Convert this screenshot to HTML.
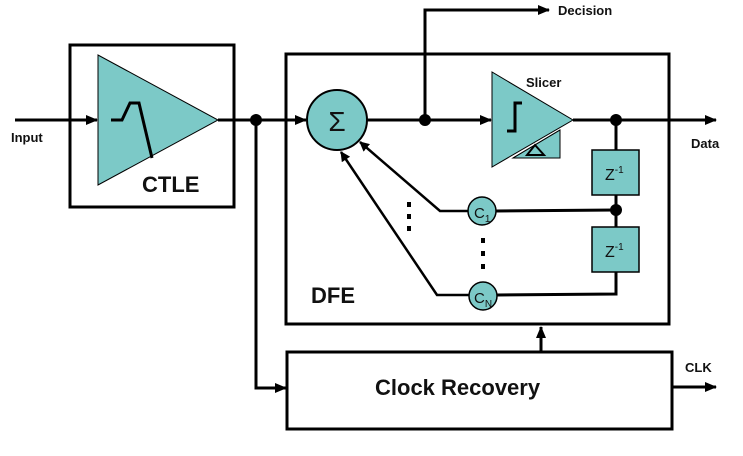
<!DOCTYPE html>
<html><head><style>html,body{margin:0;padding:0;background:#fff}svg{display:block}</style></head><body>
<svg width="743" height="456" viewBox="0 0 743 456" xmlns="http://www.w3.org/2000/svg" font-family="Liberation Sans, Arial, sans-serif" font-weight="bold">
<defs><marker id="a" markerWidth="10" markerHeight="10" refX="9" refY="5" orient="auto" markerUnits="userSpaceOnUse"><path d="M0,0 L10,5 L0,10 z" fill="#000"/></marker>
<marker id="b" markerWidth="12" markerHeight="12" refX="11" refY="6" orient="auto" markerUnits="userSpaceOnUse"><path d="M0,1 L12,6 L0,11 z" fill="#000"/></marker></defs>
<g fill="none" stroke="#000" stroke-width="3">
<rect x="70" y="45" width="164" height="162"/>
<rect x="286" y="54" width="383" height="270"/>
<rect x="287" y="352" width="385" height="77"/>
</g>
<polygon points="98,55 98,185 218,120" fill="#7cc9c7" stroke="#000" stroke-width="1"/>
<polyline points="111,120 122,120 130,103 139,103 152,158" fill="none" stroke="#000" stroke-width="3"/>
<text x="142" y="192" font-size="22" fill="#111">CTLE</text>
<g stroke="#000" stroke-width="3" fill="none">
<line x1="15" y1="120" x2="97" y2="120" marker-end="url(#b)"/>
<line x1="218" y1="120" x2="306" y2="120" marker-end="url(#b)"/>
<polyline points="256,120 256,388 286,388" marker-end="url(#b)"/>
<line x1="367" y1="120" x2="491" y2="120" marker-end="url(#b)"/>
<polyline points="425,120 425,10 549,10" marker-end="url(#b)"/>
<line x1="573" y1="120" x2="716" y2="120" marker-end="url(#b)"/>
<line x1="616" y1="120" x2="616" y2="150"/>
<line x1="616" y1="195" x2="616" y2="227"/>
<polyline points="616,272 616,294 497,295"/>
<polyline points="616,210 496,211"/>
<line x1="541" y1="352" x2="541" y2="327" marker-end="url(#b)"/>
<line x1="672" y1="387" x2="716" y2="387" marker-end="url(#b)"/>
</g>
<g stroke="#000" stroke-width="2.5" fill="none">
<polyline points="468,211 440,211 360,142" marker-end="url(#a)"/>
<polyline points="469,295 437,295 341,152" marker-end="url(#a)"/>
</g>
<circle cx="337" cy="120" r="30" fill="#7cc9c7" stroke="#000" stroke-width="2"/>
<text x="337" y="131" font-size="28" font-weight="normal" text-anchor="middle" fill="#111">Σ</text>
<polygon points="492,72 492,167 573,120" fill="#7cc9c7" stroke="#000" stroke-width="1"/>
<polygon points="513,158 560,158 560,130 513,158" fill="#7cc9c7" stroke="#000" stroke-width="1"/>
<line x1="513" y1="158" x2="560" y2="130" stroke="#000" stroke-width="1"/>
<polygon points="527,155 544,155 535,145" fill="none" stroke="#000" stroke-width="2"/>
<polyline points="507,131 515,131 515,103 522,103" fill="none" stroke="#000" stroke-width="3"/>
<text x="526" y="87" font-size="13" fill="#111">Slicer</text>
<rect x="592" y="150" width="47" height="45" fill="#7cc9c7" stroke="#000" stroke-width="1.5"/>
<rect x="592" y="227" width="47" height="45" fill="#7cc9c7" stroke="#000" stroke-width="1.5"/>
<text x="605" y="180" font-size="16" font-weight="normal" fill="#111">Z<tspan font-size="10" dy="-7">-1</tspan></text>
<text x="605" y="257" font-size="16" font-weight="normal" fill="#111">Z<tspan font-size="10" dy="-7">-1</tspan></text>
<circle cx="482" cy="211" r="14" fill="#7cc9c7" stroke="#000" stroke-width="1.5"/>
<circle cx="483" cy="296" r="14" fill="#7cc9c7" stroke="#000" stroke-width="1.5"/>
<text x="474" y="218" font-size="15" font-weight="normal" fill="#111">C<tspan font-size="10" dy="4">1</tspan></text>
<text x="474" y="303" font-size="15" font-weight="normal" fill="#111">C<tspan font-size="10" dy="4">N</tspan></text>
<g fill="#000">
<circle cx="256" cy="120" r="6"/><circle cx="425" cy="120" r="6"/><circle cx="616" cy="120" r="6"/><circle cx="616" cy="210" r="6"/>
<rect x="407" y="202" width="4" height="5"/><rect x="407" y="214" width="4" height="5"/><rect x="407" y="226" width="4" height="5"/>
<rect x="481" y="238" width="4" height="5"/><rect x="481" y="251" width="4" height="5"/><rect x="481" y="264" width="4" height="5"/>
</g>
<text x="311" y="303" font-size="22" fill="#111">DFE</text>
<text x="375" y="395" font-size="22" fill="#111">Clock Recovery</text>
<text x="11" y="142" font-size="13" fill="#111">Input</text>
<text x="558" y="15" font-size="13" fill="#111">Decision</text>
<text x="691" y="148" font-size="13" fill="#111">Data</text>
<text x="685" y="372" font-size="13" fill="#111">CLK</text>
</svg>
</body></html>
